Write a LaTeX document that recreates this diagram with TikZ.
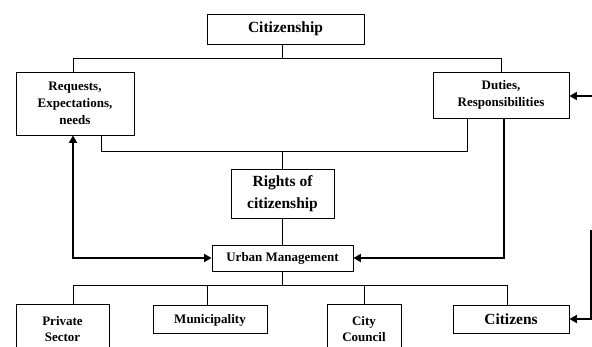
\documentclass[tikz,border=0pt]{standalone}
\usepackage{fontspec}
\setmainfont{Liberation Serif}
\usepackage{tikz}
\usetikzlibrary{arrows.meta, positioning}

\begin{document}
\begin{tikzpicture}[
  x=1pt, y=-1pt,
  %--- shared node styles -----------------------------------------
  box/.style={
    rectangle, draw=black, line width=0.9pt,
    align=center, inner sep=2pt,
    font=\bfseries\fontsize{13}{16.7}\selectfont
  },
  bigbox/.style={
    box, font=\bfseries\fontsize{15.5}{22}\selectfont
  },
  link/.style={line width=0.8pt, color=black},
  arr/.style={line width=1.8pt, color=black,
    -{Triangle[length=7.5pt,width=8pt]}},
  duoarr/.style={arr, {Triangle[length=7.5pt,width=8pt]}-{Triangle[length=7.5pt,width=8pt]}},
]
\useasboundingbox (0,0) rectangle (592,347);

%% --- ROW 0  (y=29): Citizenship ---------------------------------
\node[bigbox, minimum width=157pt, minimum height=30pt] (citizenship) at (285.5, 29)
  {Citizenship};

%% --- ROW 1  (y=100): requests (left), duties (right) ------------
\node[box, minimum width=118pt, minimum height=63pt] (req) at (75, 103.5)
  {Requests,\\Expectations,\\needs};
\node[box, minimum width=136pt, minimum height=46pt] (duties) at (501, 95)
  {Duties,\\Responsibilities};

%% --- ROW 2  (y=193.5): Rights of citizenship --------------------
\node[bigbox, minimum width=103pt, minimum height=49pt] (rights) at (282.5, 193.5)
  {Rights of\\citizenship};

%% --- ROW 3  (y=258): Urban Management ---------------------------
\node[box, font=\bfseries\fontsize{13}{15}\selectfont,
  minimum width=141pt, minimum height=26pt] (urban) at (282.5, 258)
  {Urban Management};

%% ROW 4 — four actors along the bottom (two run off the page)
\node[box, minimum width=93pt, minimum height=50pt] (private) at (62.5, 329)
  {Private\\Sector};
\node[box, minimum width=114pt, minimum height=28pt, text depth=1pt] (municipality) at (210, 319)
  {Municipality};
\node[box, minimum width=74pt, minimum height=50pt] (city) at (364, 329)
  {City\\Council};
\node[bigbox, minimum width=116pt, minimum height=28pt] (citizens) at (511, 319)
  {Citizens};

%% --- loose ends at the right page edge ---------------------------
\coordinate (loopin)  at (592, 96);
\coordinate (loopend) at (591, 230);

%% --- connectors ---------------------------------------------------
% citizenship -> requests / duties
\draw[link] (citizenship.south -| rights.north) -- ++(0,15);
\draw[link] ([xshift=-2pt]req.north) -- ++(0,-13) -| (duties.north);
% requests / duties -> rights
\draw[link] ([xshift=26pt]req.south) -- ++(0,16) -| ([xshift=-34pt]duties.south);
\draw[link] (rights.north) -- ++(0,-18);
% rights -> urban management
\draw[link] (rights.south) -- (urban.north);
% urban management -> four actors (fan out)
\draw[link] (urban.south) -- ++(0,15);
\draw[link] ([xshift=10.5pt]private.north) -- ++(0,-18) -| ([xshift=-4pt]citizens.north);
\draw[link] ([xshift=-3pt]municipality.north) -- ++(0,-19);
\draw[link] (city.north) -- ++(0,-18);

% thick feedback arrows
\draw[duoarr] ([xshift=-2pt]req.south) |- (urban.west);
\draw[arr] ([xshift=3pt]duties.south) |- (urban.east);
\draw[arr] (loopin) -- (duties.east |- loopin);
\draw[arr] (loopend) |- (citizens.east);

\end{tikzpicture}
\end{document}
